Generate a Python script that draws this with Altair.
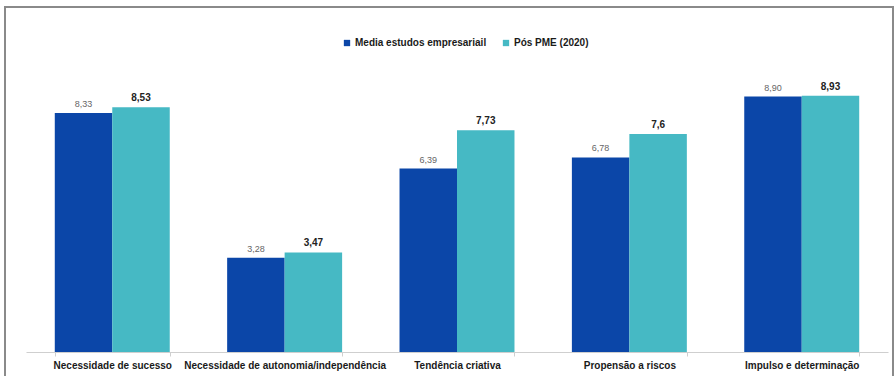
import altair as alt
import pandas as pd

categories = [
    "Necessidade de sucesso",
    "Necessidade de autonomia/independência",
    "Tendência criativa",
    "Propensão a riscos",
    "Impulso e determinação",
]
series = ["Media estudos empresariail", "Pós PME (2020)"]
media = [8.33, 3.28, 6.39, 6.78, 8.90]
pos = [8.53, 3.47, 7.73, 7.6, 8.93]
media_labels = ["8,33", "3,28", "6,39", "6,78", "8,90"]
pos_labels = ["8,53", "3,47", "7,73", "7,6", "8,93"]
colors = ["#0B46A8", "#46B9C4"]

rows = []
for c, v, l in zip(categories, media, media_labels):
    rows.append({"cat": c, "serie": series[0], "valor": v, "rotulo": l})
for c, v, l in zip(categories, pos, pos_labels):
    rows.append({"cat": c, "serie": series[1], "valor": v, "rotulo": l})
df = pd.DataFrame(rows)

FONT = "Liberation Sans"

x_enc = alt.X(
    "cat:N",
    sort=categories,
    title=None,
    scale=alt.Scale(paddingInner=0.333, paddingOuter=0.167),
    axis=alt.Axis(
        labelAngle=0,
        labelFont=FONT,
        labelFontSize=10,
        labelFontWeight="bold",
        labelColor="#1a1a1a",
        labelPadding=4,
        domainColor="#cfcfcf",
        tickColor="#cfcfcf",
        tickBand="extent",
        tickSize=4,
        labelLimit=300,
    ),
)
xoff = alt.XOffset("serie:N", sort=series, scale=alt.Scale(padding=0))
y_enc = alt.Y("valor:Q", scale=alt.Scale(domain=[0, 10]), axis=None)

bars = alt.Chart(df).mark_bar().encode(
    x=x_enc,
    xOffset=xoff,
    y=y_enc,
    color=alt.Color(
        "serie:N",
        sort=series,
        scale=alt.Scale(domain=series, range=colors),
        legend=alt.Legend(
            title=None,
            orient="none",
            legendX=316,
            legendY=-27,
            direction="horizontal",
            symbolType="square",
            symbolSize=40,
            symbolStrokeWidth=0,
            labelFont=FONT,
            labelFontSize=10,
            labelFontWeight="bold",
            labelColor="#1a1a1a",
            columnPadding=14,
            labelOffset=3,
        ),
    ),
)

txt_media = alt.Chart(df).transform_filter(
    alt.datum.serie == series[0]
).mark_text(baseline="bottom", dy=-4, font=FONT, fontSize=9, color="#666666").encode(
    x=x_enc, xOffset=xoff, y=y_enc, text="rotulo:N"
)

txt_pos = alt.Chart(df).transform_filter(
    alt.datum.serie == series[1]
).mark_text(
    baseline="bottom", dy=-4, font=FONT, fontSize=10, fontWeight="bold", color="#222222"
).encode(x=x_enc, xOffset=xoff, y=y_enc, text="rotulo:N")

frame = alt.Chart(df).mark_rect(
    fillOpacity=0, stroke="#8a8a8a", strokeWidth=1.5
).encode(
    x=alt.value(-21), x2=alt.value(867), y=alt.value(-58), y2=alt.value(340)
)

chart = (
    alt.layer(frame, bars, txt_media, txt_pos)
    .properties(
        width=862,
        height=287,
        autosize=alt.AutoSizeParams(type="none"),
        padding={"left": 26, "top": 65, "right": 7, "bottom": 24},
        background="white",
    )
    .configure_view(stroke=None)
)

chart.save("out.html", embed_options={"renderer": "svg", "actions": False})
